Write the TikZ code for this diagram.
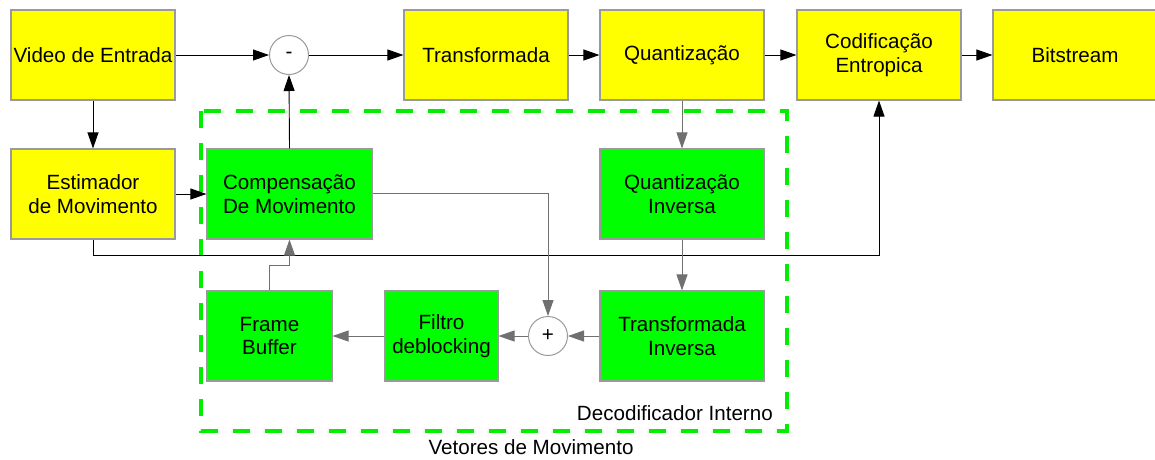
\documentclass[tikz,border=0pt]{standalone}
\usepackage{fontspec}
\setmainfont{Liberation Sans}
\usetikzlibrary{arrows.meta,calc}
\definecolor{ybox}{HTML}{FFFF00}
\definecolor{gbox}{HTML}{00FF00}
\definecolor{bordc}{HTML}{9A9A9A}
\definecolor{dashc}{HTML}{00EE00}
\definecolor{linec}{HTML}{707070}
\begin{document}
\begin{tikzpicture}[x=1pt,y=-1pt,
  every node/.style={font=\fontsize{20.6}{23.5}\selectfont, align=center, inner sep=0pt},
  blk/.style={draw=bordc, line width=1.1pt, minimum height=90pt},
  yblk/.style={blk, fill=ybox},
  gblk/.style={blk, fill=gbox},
  sumc/.style={circle, draw=bordc, fill=white, line width=1pt, minimum size=39pt},
  arr/.style={-{Triangle[length=16pt,width=11pt]}, line width=0.9pt},
  garr/.style={arr, draw=linec},
  dashbox/.style={draw=dashc, line width=4.5pt, dash pattern=on 17pt off 15pt}
]
\useasboundingbox (0,0) rectangle (1155,459);
% dashed region
\draw[dashbox] (201,111) rectangle (787,431);
% top row
\node[yblk, minimum width=164pt] (vid) at (93,55) {Video de Entrada};
\node[sumc] (minus) at (289,55) {-};
\node[yblk, minimum width=164pt] (trans) at (486,55) {Transformada};
\node[yblk, minimum width=164pt] (quant) at (682,55) {Quantização};
\node[yblk, minimum width=164pt] (cod) at (879,55) {Codificação\\Entropica};
\node[yblk, minimum width=164pt] (bit) at (1075,55) {Bitstream};
% middle row
\node[yblk, minimum width=164pt] (est) at (93,194) {Estimador\\de Movimento};
\node[gblk, minimum width=165pt] (comp) at (289.5,194) {Compensação\\De Movimento};
\node[gblk, minimum width=164pt] (qinv) at (682,194) {Quantização\\Inversa};
% bottom row
\node[gblk, minimum width=125pt] (fb) at (269.5,336) {Frame\\Buffer};
\node[gblk, minimum width=113pt] (filt) at (441.5,336) {Filtro\\deblocking};
\node[sumc] (plus) at (548,336) {+};
\node[gblk, minimum width=164pt] (tinv) at (682,336) {Transformada\\Inversa};
% labels
\node[anchor=east] (deci) at (773,413) {Decodificador Interno};
\node (vet) at (531,447) {Vetores de Movimento};
% coordinates
\coordinate (fbup) at (269.5,265);
\coordinate (fbr) at (289.5,265);
\coordinate (compr) at (548,193);
\coordinate (estd) at (93,255);
\coordinate (codd) at (879,255);
% connectors
\draw[arr] (vid.east) -- (minus.west);
\draw[arr] (minus.east) -- (trans.west);
\draw[arr] (trans.east) -- (quant.west);
\draw[arr] (quant.east) -- (cod.west);
\draw[arr] (cod.east) -- (bit.west);
\draw[arr] (vid.south) -- (est.north);
\draw[arr] (est.east) -- (comp.west);
\draw[arr] (comp.north) -- (minus.south);
\draw[arr] (est.south) -- (estd) -- (codd) -- (cod.south);
\draw[garr] (quant.south) -- (qinv.north);
\draw[garr] (qinv.south) -- (tinv.north);
\draw[garr] (tinv.west) -- (plus.east);
\draw[garr] (plus.west) -- (filt.east);
\draw[garr] (filt.west) -- (fb.east);
\draw[garr] (fb.north) -- (fbup) -- (fbr) -- (comp.south);
\draw[garr] (comp.east |- compr) -- (compr) -- (plus.north);
\end{tikzpicture}
\end{document}
